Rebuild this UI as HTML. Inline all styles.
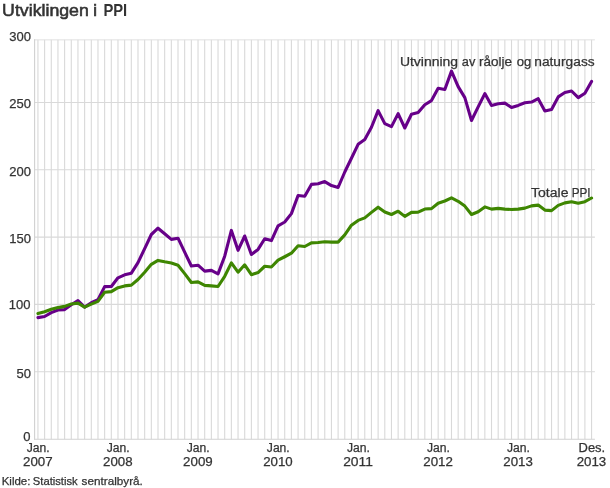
<!DOCTYPE html>
<html><head><meta charset="utf-8"><title>Utviklingen i PPI</title>
<style>
html,body{margin:0;padding:0;background:#fff;}
body{width:610px;height:488px;overflow:hidden;font-family:"Liberation Sans",sans-serif;}
svg{display:block;font-family:"Liberation Sans",sans-serif;will-change:transform;}
</style></head><body>
<svg width="610" height="488" viewBox="0 0 610 488">
<rect width="610" height="488" fill="#fff"/>
<path d="M37.94 39.85V439.20M44.61 39.85V439.20M51.28 39.85V439.20M57.95 39.85V439.20M64.62 39.85V439.20M71.29 39.85V439.20M77.96 39.85V439.20M84.63 39.85V439.20M91.30 39.85V439.20M97.97 39.85V439.20M104.64 39.85V439.20M111.31 39.85V439.20M117.98 39.85V439.20M124.65 39.85V439.20M131.32 39.85V439.20M137.99 39.85V439.20M144.66 39.85V439.20M151.33 39.85V439.20M158.00 39.85V439.20M164.67 39.85V439.20M171.34 39.85V439.20M178.01 39.85V439.20M184.68 39.85V439.20M191.35 39.85V439.20M198.02 39.85V439.20M204.69 39.85V439.20M211.36 39.85V439.20M218.03 39.85V439.20M224.70 39.85V439.20M231.37 39.85V439.20M238.04 39.85V439.20M244.71 39.85V439.20M251.38 39.85V439.20M258.05 39.85V439.20M264.72 39.85V439.20M271.39 39.85V439.20M278.06 39.85V439.20M284.73 39.85V439.20M291.40 39.85V439.20M298.07 39.85V439.20M304.74 39.85V439.20M311.41 39.85V439.20M318.09 39.85V439.20M324.76 39.85V439.20M331.43 39.85V439.20M338.10 39.85V439.20M344.77 39.85V439.20M351.44 39.85V439.20M358.11 39.85V439.20M364.78 39.85V439.20M371.45 39.85V439.20M378.12 39.85V439.20M384.79 39.85V439.20M391.46 39.85V439.20M398.13 39.85V439.20M404.80 39.85V439.20M411.47 39.85V439.20M418.14 39.85V439.20M424.81 39.85V439.20M431.48 39.85V439.20M438.15 39.85V439.20M444.82 39.85V439.20M451.49 39.85V439.20M458.16 39.85V439.20M464.83 39.85V439.20M471.50 39.85V439.20M478.17 39.85V439.20M484.84 39.85V439.20M491.51 39.85V439.20M498.18 39.85V439.20M504.85 39.85V439.20M511.52 39.85V439.20M518.19 39.85V439.20M524.86 39.85V439.20M531.53 39.85V439.20M538.20 39.85V439.20M544.87 39.85V439.20M551.54 39.85V439.20M558.21 39.85V439.20M564.88 39.85V439.20M571.55 39.85V439.20M578.22 39.85V439.20M584.89 39.85V439.20M591.56 39.85V439.20" stroke="#d9d9d9" stroke-width="1.1" fill="none"/>
<path d="M34.60 371.70H594.90M34.60 304.40H594.90M34.60 237.10H594.90M34.60 169.80H594.90M34.60 102.50H594.90" stroke="#d9d9d9" stroke-width="1.1" fill="none"/>
<path d="M34.10 39.85H594.90" stroke="#e0e0e0" stroke-width="1.0" fill="none"/>
<path d="M34.60 39.35V439.70" stroke="#d0d0d0" stroke-width="1.1" fill="none"/>
<path d="M34.10 439.20H594.90" stroke="#d2d2d2" stroke-width="1.1" fill="none"/>
<path d="M37.94 317.60 L44.61 316.50 L51.28 312.60 L57.95 310.00 L64.62 309.60 L71.29 304.70 L77.96 300.60 L84.63 307.10 L91.30 302.75 L97.97 299.70 L104.64 286.60 L111.31 286.50 L117.98 277.80 L124.65 274.80 L131.32 273.20 L137.99 262.60 L144.66 248.60 L151.33 234.50 L158.00 228.20 L164.67 233.80 L171.34 239.40 L178.01 238.20 L184.68 252.20 L191.35 265.97 L198.02 265.20 L204.69 271.10 L211.36 270.40 L218.03 273.90 L224.70 256.20 L231.37 230.40 L238.04 250.30 L244.71 236.00 L251.38 254.50 L258.05 249.40 L264.72 238.70 L271.39 240.60 L278.06 225.80 L284.73 222.00 L291.40 213.60 L298.07 195.50 L304.74 196.20 L311.41 184.40 L318.09 183.70 L324.76 181.60 L331.43 185.60 L338.10 187.50 L344.77 172.00 L351.44 158.30 L358.11 144.30 L364.78 139.50 L371.45 127.30 L378.12 110.60 L384.79 123.60 L391.46 126.60 L398.13 113.60 L404.80 128.00 L411.47 114.30 L418.14 112.60 L424.81 104.70 L431.48 100.60 L438.15 88.30 L444.82 89.50 L451.49 71.10 L458.16 86.60 L464.83 97.60 L471.50 120.50 L478.17 106.90 L484.84 93.60 L491.51 105.40 L498.18 103.80 L504.85 103.10 L511.52 107.50 L518.19 105.40 L524.86 102.80 L531.53 102.05 L538.20 98.65 L544.87 110.90 L551.54 109.40 L558.21 96.90 L564.88 92.50 L571.55 91.00 L578.22 97.60 L584.89 93.20 L591.56 81.40" stroke="#670089" stroke-width="3.1" fill="none" stroke-linejoin="round" stroke-linecap="round"/>
<path d="M37.94 313.60 L44.61 311.70 L51.28 309.30 L57.95 307.60 L64.62 306.40 L71.29 304.07 L77.96 303.10 L84.63 307.10 L91.30 304.10 L97.97 301.40 L104.64 292.30 L111.31 291.60 L117.98 287.65 L124.65 285.90 L131.32 285.10 L137.99 279.50 L144.66 272.20 L151.33 264.30 L158.00 260.40 L164.67 261.80 L171.34 263.00 L178.01 265.20 L184.68 273.60 L191.35 282.50 L198.02 281.90 L204.69 285.40 L211.36 285.90 L218.03 286.50 L224.70 276.30 L231.37 262.90 L238.04 272.20 L244.71 264.80 L251.38 274.70 L258.05 272.55 L264.72 266.25 L271.39 267.00 L278.06 260.20 L284.73 256.75 L291.40 253.20 L298.07 245.70 L304.74 246.50 L311.41 242.85 L318.09 242.50 L324.76 241.70 L331.43 242.10 L338.10 242.10 L344.77 234.90 L351.44 225.20 L358.11 220.40 L364.78 217.85 L371.45 212.40 L378.12 207.20 L384.79 211.95 L391.46 214.50 L398.13 211.20 L404.80 216.40 L411.47 212.40 L418.14 212.10 L424.81 209.05 L431.48 208.65 L438.15 203.20 L444.82 201.00 L451.49 197.90 L458.16 201.30 L464.83 206.10 L471.50 214.50 L478.17 211.75 L484.84 206.90 L491.51 209.10 L498.18 208.40 L504.85 209.10 L511.52 209.50 L518.19 209.10 L524.86 208.10 L531.53 205.85 L538.20 205.10 L544.87 210.10 L551.54 210.60 L558.21 205.40 L564.88 202.90 L571.55 201.70 L578.22 203.20 L584.89 201.70 L591.56 198.00" stroke="#3e8601" stroke-width="3.1" fill="none" stroke-linejoin="round" stroke-linecap="round"/>
<text x="2.13" y="15.7" font-size="16.6" fill="#333" stroke="#333" stroke-width="0.55" textLength="86.72" lengthAdjust="spacingAndGlyphs">Utviklingen</text>
<text x="93.24" y="15.7" font-size="16.6" fill="#333" stroke="#333" stroke-width="0.7">i</text>
<text x="103.40" y="15.7" font-size="16.6" fill="#333" font-weight="bold" textLength="23.80" lengthAdjust="spacingAndGlyphs">PPI</text>
<text x="30.4" y="440.70" font-size="13" fill="#333" stroke="#333" stroke-width="0.25" text-anchor="end">0</text>
<text x="31.0" y="378.00" font-size="13" fill="#333" stroke="#333" stroke-width="0.25" text-anchor="end">50</text>
<text x="30.5" y="309.00" font-size="13" fill="#333" stroke="#333" stroke-width="0.25" text-anchor="end">100</text>
<text x="31.0" y="243.00" font-size="13" fill="#333" stroke="#333" stroke-width="0.25" text-anchor="end">150</text>
<text x="31.0" y="176.00" font-size="13" fill="#333" stroke="#333" stroke-width="0.25" text-anchor="end">200</text>
<text x="31.0" y="108.00" font-size="13" fill="#333" stroke="#333" stroke-width="0.25" text-anchor="end">250</text>
<text x="31.0" y="40.95" font-size="13" fill="#333" stroke="#333" stroke-width="0.25" text-anchor="end">300</text>
<text x="26.71" y="451.9" font-size="12.5" fill="#333" stroke="#333" stroke-width="0.25" textLength="22.91" lengthAdjust="spacingAndGlyphs">Jan.</text>
<text x="23.02" y="465.7" font-size="13" fill="#333" stroke="#333" stroke-width="0.25" textLength="29.67" lengthAdjust="spacingAndGlyphs">2007</text>
<text x="106.76" y="451.9" font-size="12.5" fill="#333" stroke="#333" stroke-width="0.25" textLength="22.91" lengthAdjust="spacingAndGlyphs">Jan.</text>
<text x="103.07" y="465.7" font-size="13" fill="#333" stroke="#333" stroke-width="0.25" textLength="29.54" lengthAdjust="spacingAndGlyphs">2008</text>
<text x="186.80" y="451.9" font-size="12.5" fill="#333" stroke="#333" stroke-width="0.25" textLength="22.91" lengthAdjust="spacingAndGlyphs">Jan.</text>
<text x="183.11" y="465.7" font-size="13" fill="#333" stroke="#333" stroke-width="0.25" textLength="29.67" lengthAdjust="spacingAndGlyphs">2009</text>
<text x="266.84" y="451.9" font-size="12.5" fill="#333" stroke="#333" stroke-width="0.25" textLength="22.91" lengthAdjust="spacingAndGlyphs">Jan.</text>
<text x="263.15" y="465.7" font-size="13" fill="#333" stroke="#333" stroke-width="0.25" textLength="29.54" lengthAdjust="spacingAndGlyphs">2010</text>
<text x="346.89" y="451.9" font-size="12.5" fill="#333" stroke="#333" stroke-width="0.25" textLength="22.91" lengthAdjust="spacingAndGlyphs">Jan.</text>
<text x="343.17" y="465.7" font-size="13" fill="#333" stroke="#333" stroke-width="0.25" textLength="29.76" lengthAdjust="spacingAndGlyphs">2011</text>
<text x="426.93" y="451.9" font-size="12.5" fill="#333" stroke="#333" stroke-width="0.25" textLength="22.91" lengthAdjust="spacingAndGlyphs">Jan.</text>
<text x="423.24" y="465.7" font-size="13" fill="#333" stroke="#333" stroke-width="0.25" textLength="29.67" lengthAdjust="spacingAndGlyphs">2012</text>
<text x="506.97" y="451.9" font-size="12.5" fill="#333" stroke="#333" stroke-width="0.25" textLength="22.91" lengthAdjust="spacingAndGlyphs">Jan.</text>
<text x="503.28" y="465.7" font-size="13" fill="#333" stroke="#333" stroke-width="0.25" textLength="29.54" lengthAdjust="spacingAndGlyphs">2013</text>
<text x="578.56" y="451.9" font-size="12.5" fill="#333" stroke="#333" stroke-width="0.25" textLength="26.62" lengthAdjust="spacingAndGlyphs">Des.</text>
<text x="576.65" y="465.7" font-size="13" fill="#333" stroke="#333" stroke-width="0.25" textLength="29.54" lengthAdjust="spacingAndGlyphs">2013</text>
<text x="399.92" y="65.9" font-size="12.5" fill="#333" stroke="#333" stroke-width="0.25" textLength="58.21" lengthAdjust="spacingAndGlyphs">Utvinning</text>
<text x="461.82" y="65.9" font-size="12.5" fill="#333" stroke="#333" stroke-width="0.25" textLength="13.49" lengthAdjust="spacingAndGlyphs">av</text>
<text x="479.09" y="65.9" font-size="12.5" fill="#333" stroke="#333" stroke-width="0.25" textLength="33.00" lengthAdjust="spacingAndGlyphs">råolje</text>
<text x="516.66" y="65.9" font-size="12.5" fill="#333" stroke="#333" stroke-width="0.25" textLength="14.64" lengthAdjust="spacingAndGlyphs">og</text>
<text x="534.28" y="65.9" font-size="12.5" fill="#333" stroke="#333" stroke-width="0.25" textLength="60.37" lengthAdjust="spacingAndGlyphs">naturgass</text>
<text x="531.06" y="196.9" font-size="12.5" fill="#333" stroke="#333" stroke-width="0.25" textLength="37.38" lengthAdjust="spacingAndGlyphs">Totale</text>
<text x="571.68" y="196.9" font-size="12.5" fill="#333" stroke="#333" stroke-width="0.25" textLength="18.89" lengthAdjust="spacingAndGlyphs">PPI</text>
<text x="1.68" y="484.75" font-size="11" fill="#333" stroke="#333" stroke-width="0.25" textLength="28.77" lengthAdjust="spacingAndGlyphs">Kilde:</text>
<text x="32.82" y="484.75" font-size="11" fill="#333" stroke="#333" stroke-width="0.25" textLength="44.84" lengthAdjust="spacingAndGlyphs">Statistisk</text>
<text x="81.63" y="484.75" font-size="11" fill="#333" stroke="#333" stroke-width="0.25" textLength="61.18" lengthAdjust="spacingAndGlyphs">sentralbyrå.</text>
</svg></body></html>
